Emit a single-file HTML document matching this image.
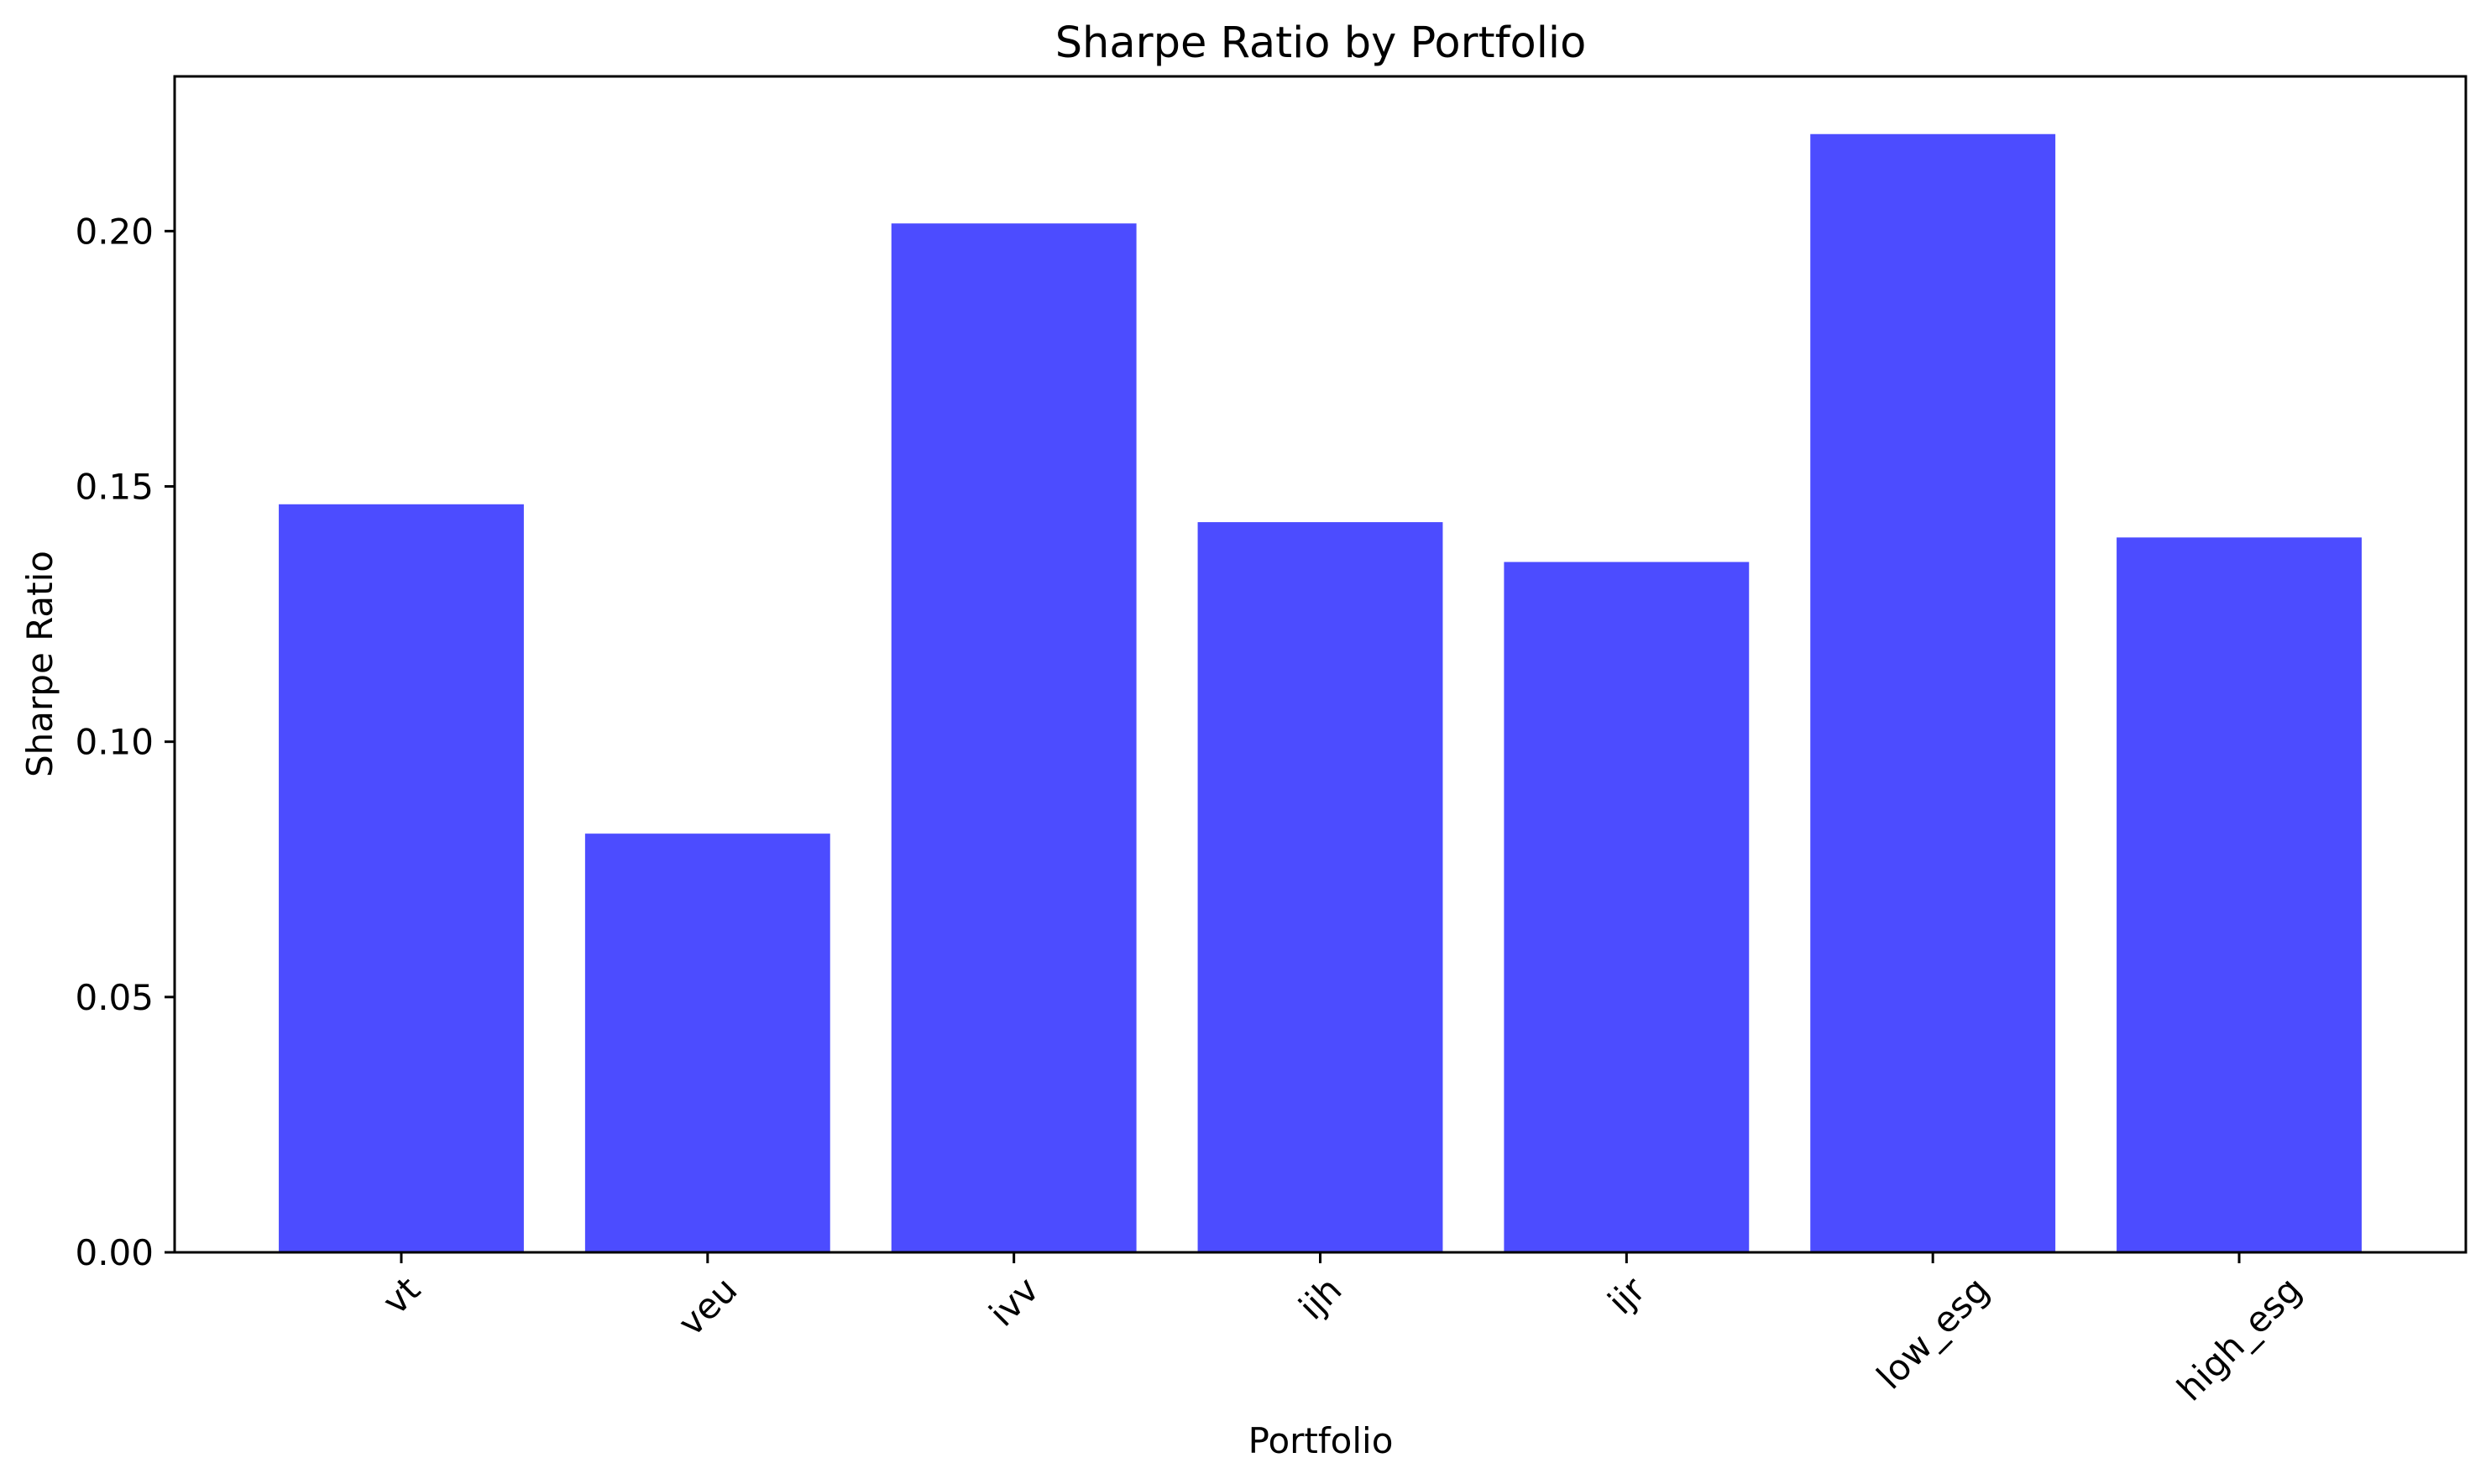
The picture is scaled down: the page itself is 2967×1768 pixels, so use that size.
<!DOCTYPE html>
<html><head><meta charset="utf-8"><style>
html,body{margin:0;padding:0;background:#fff}
svg{display:block;font-family:"DejaVu Sans","Liberation Sans",sans-serif}
</style></head><body>
<svg id="chart" width="2967" height="1768" viewBox="0 0 2967 1768">
<rect x="0" y="0" width="2967" height="1768" fill="#fff"/>
<g id="bars"></g>
<g id="yticks"></g>
<g id="xticks"></g>
<rect x="208" y="91" width="2729" height="1401" fill="none" stroke="#000" stroke-width="3"/>
<text x="1573" y="68" font-size="51" text-anchor="middle">Sharpe Ratio by Portfolio</text>
<text x="1573" y="1731" font-size="42" text-anchor="middle">Portfolio</text>
<text x="62" y="791" font-size="42" text-anchor="middle" transform="rotate(-90 62 791)">Sharpe Ratio</text>
</svg>
<script>
const categories = ["vt","veu","ivv","ijh","ijr","low_esg","high_esg"];
const sharpeValues = [0.1465, 0.082, 0.2015, 0.143, 0.1352, 0.219, 0.140];
const yTickValues = [0, 0.05, 0.10, 0.15, 0.20];
const yTickLabels = ["0.00","0.05","0.10","0.15","0.20"];

const NS = "http://www.w3.org/2000/svg";
const L = 208, R = 2937, T = 91, B = 1492;
const xMin = -0.74, xMax = categories.length - 1 + 0.74;
const yMin = 0, yMax = 0.2303;
function xScale(i){ return L + (i - xMin) / (xMax - xMin) * (R - L); }
function yScale(v){ return B - (v - yMin) / (yMax - yMin) * (B - T); }
const unit = (R - L) / (xMax - xMin);

const barsG = document.getElementById('bars');
sharpeValues.forEach((v, i) => {
  const r = document.createElementNS(NS, 'rect');
  const x0 = xScale(i) - 0.4 * unit;
  r.setAttribute('x', x0);
  r.setAttribute('y', yScale(v));
  r.setAttribute('width', 0.8 * unit);
  r.setAttribute('height', yScale(0) - yScale(v));
  r.setAttribute('fill', '#4c4cff');
  
  
  barsG.appendChild(r);
});

const yG = document.getElementById('yticks');
yTickValues.forEach((v, i) => {
  const y = yScale(v);
  const ln = document.createElementNS(NS, 'line');
  ln.setAttribute('x1', L - 12); ln.setAttribute('x2', L);
  ln.setAttribute('y1', y); ln.setAttribute('y2', y);
  ln.setAttribute('stroke', '#000'); ln.setAttribute('stroke-width', 3);
  
  
  yG.appendChild(ln);
  const t = document.createElementNS(NS, 'text');
  t.setAttribute('x', L - 25); t.setAttribute('y', y + 15);
  t.setAttribute('font-size', 42); t.setAttribute('text-anchor', 'end');
  t.textContent = yTickLabels[i];
  
  
  yG.appendChild(t);
});

const xG = document.getElementById('xticks');
categories.forEach((c, i) => {
  const x = xScale(i);
  const ln = document.createElementNS(NS, 'line');
  ln.setAttribute('x1', x); ln.setAttribute('x2', x);
  ln.setAttribute('y1', B); ln.setAttribute('y2', B + 13);
  ln.setAttribute('stroke', '#000'); ln.setAttribute('stroke-width', 3);
  
  
  xG.appendChild(ln);
  const t = document.createElementNS(NS, 'text');
  t.setAttribute('font-size', 42);
  t.setAttribute('text-anchor', 'middle');
  t.setAttribute('dominant-baseline', 'central');
  t.textContent = c;
  
  
  xG.appendChild(t);
  const bb = t.getBBox();
  const half = (bb.width + 34) * 0.7071 / 2;
  const cy = B + 25 + half;
  t.setAttribute('x', x); t.setAttribute('y', cy);
  t.setAttribute('transform', 'rotate(-45 ' + x + ' ' + cy + ')');
});
</script>
</body></html>
